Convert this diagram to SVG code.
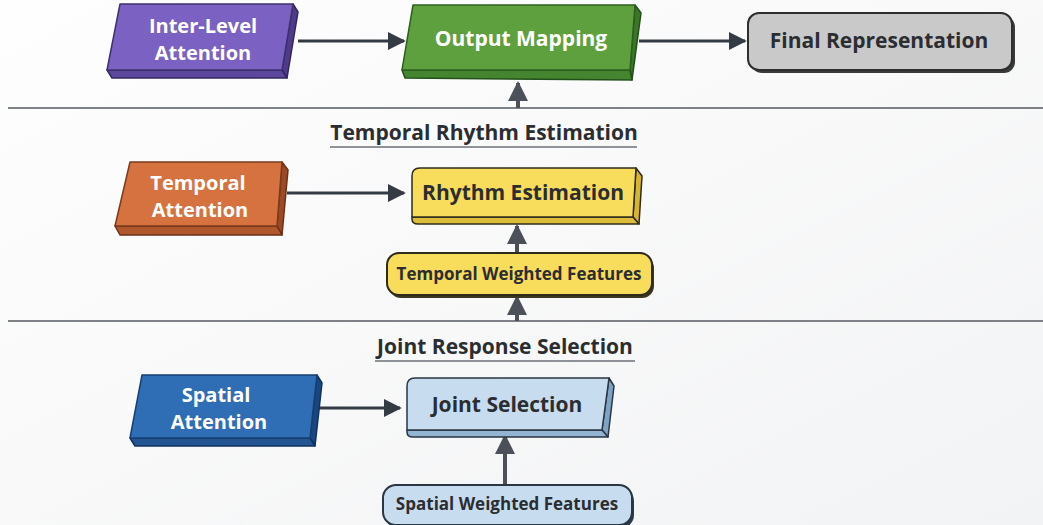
<svg xmlns="http://www.w3.org/2000/svg" width="1043" height="525" viewBox="0 0 1043 525">
  <defs>
    <linearGradient id="bg" x1="0" y1="0" x2="1" y2="1">
      <stop offset="0" stop-color="#fefefe"/>
      <stop offset="1" stop-color="#f2f3f4"/>
    </linearGradient>
    <marker id="arrow" viewBox="0 0 10 10" refX="9" refY="5" markerWidth="6" markerHeight="6" markerUnits="strokeWidth" orient="auto">
      <path d="M0,0 L10,5 L0,10 Z" fill="#353b44"/>
    </marker>
    <marker id="arrowUp" viewBox="0 0 10 10" refX="9" refY="5" markerWidth="5" markerHeight="5" markerUnits="strokeWidth" orient="auto">
      <path d="M0,0 L10,5 L0,10 Z" fill="#4b5059"/>
    </marker>
  </defs>
  <style>
    .lbl { font-family: "Open Sans", "Noto Sans", "Liberation Sans", sans-serif; font-weight: 700; text-anchor: middle; }
    .light { fill: #ffffff; font-size: 21px; }
    .two { font-size: 20px; }
    .dark { fill: #2b2d31; font-size: 21px; }
    .small { fill: #2b2d31; font-size: 17px; }
    .title { fill: #2b2d31; font-size: 21px; }
    .edge { stroke: #353b44; stroke-width: 3; fill: none; }
    .edgeUp { stroke: #4b5059; stroke-width: 4; fill: none; }
    .sep { stroke: #55595f; stroke-width: 1.5; }
    .ul { stroke: #6b6f75; stroke-width: 1.5; }
    .edgeStroke { stroke-linejoin: round; stroke-width: 1.5; }
  </style>

  <rect width="1043" height="525" fill="url(#bg)"/>

  <!-- section separators -->
  <line class="sep" x1="8" y1="108" x2="1043" y2="108"/>
  <line class="sep" x1="8" y1="321" x2="1043" y2="321"/>

  <!-- section titles -->
  <g id="title-temporal">
    <text class="lbl title" x="484" y="140">Temporal Rhythm Estimation</text>
    <line class="ul" x1="330" y1="147" x2="637" y2="147"/>
  </g>
  <g id="title-joint">
    <text class="lbl title" x="505" y="354">Joint Response Selection</text>
    <line class="ul" x1="375" y1="361" x2="635" y2="361"/>
  </g>

  <!-- connectors -->
  <g id="connectors">
    <line class="edge" x1="298" y1="41" x2="404" y2="41" marker-end="url(#arrow)"/>
    <line class="edge" x1="639" y1="41" x2="745" y2="41" marker-end="url(#arrow)"/>
    <line class="edgeUp" x1="518" y1="108" x2="518" y2="83" marker-end="url(#arrowUp)"/>
    <line class="edge" x1="287" y1="193" x2="404" y2="193" marker-end="url(#arrow)"/>
    <line class="edgeUp" x1="517" y1="253" x2="517" y2="226" marker-end="url(#arrowUp)"/>
    <line class="edgeUp" x1="517" y1="321" x2="517" y2="297" marker-end="url(#arrowUp)"/>
    <line class="edge" x1="318" y1="408" x2="400" y2="408" marker-end="url(#arrow)"/>
    <line class="edgeUp" x1="505" y1="485" x2="505" y2="436" marker-end="url(#arrowUp)"/>
  </g>

  <!-- Inter-Level Attention -->
  <g id="inter-level-attention" class="edgeStroke">
    <polygon points="293,4 298,12 287,78 282,70" fill="#4f3b8a" stroke="#33285e"/>
    <polygon points="107,70 282,70 287,78 112,78" fill="#5c479c" stroke="#33285e"/>
    <polygon points="120,4 293,4 282,70 107,70" fill="#7b62c2" stroke="#3e3170"/>
    <text class="lbl light two"><tspan x="203" y="33">Inter-Level</tspan><tspan x="203" y="60">Attention</tspan></text>
  </g>

  <!-- Output Mapping -->
  <g id="output-mapping" class="edgeStroke">
    <polygon points="635,5 641,13 632,80 630,70" fill="#3b7526" stroke="#23501a"/>
    <polygon points="402,70 630,70 632,80 405,78" fill="#468530" stroke="#23501a"/>
    <polygon points="413,5 635,5 630,70 402,70" fill="#5ea03d" stroke="#2f5f20"/>
    <text class="lbl light" x="521" y="46">Output Mapping</text>
  </g>

  <!-- Final Representation -->
  <g id="final-representation">
    <rect x="751" y="16" width="264" height="57" rx="11" fill="#3a3a3a"/>
    <rect x="748" y="13" width="264" height="57" rx="11" fill="#c9c9ca" stroke="#2e2e2e" stroke-width="2"/>
    <text class="lbl dark" x="879" y="48">Final Representation</text>
  </g>

  <!-- Temporal Attention -->
  <g id="temporal-attention" class="edgeStroke">
    <polygon points="282,162 288,170 282,235 277,226" fill="#9c4a26" stroke="#6a3018"/>
    <polygon points="115,226 277,226 282,235 120,235" fill="#b0572e" stroke="#6a3018"/>
    <polygon points="130,162 282,162 277,226 115,226" fill="#d6723f" stroke="#7a3a1c"/>
    <text class="lbl light two"><tspan x="198" y="190">Temporal</tspan><tspan x="200" y="217">Attention</tspan></text>
  </g>

  <!-- Rhythm Estimation -->
  <g id="rhythm-estimation" class="edgeStroke">
    <polygon points="636,168 642,176 639,224 633,217" fill="#d6b531" stroke="#2f2b1c"/>
    <path d="M412,217 L633,217 L639,224 L418,224 Q412,224 412,219 Z" fill="#dcbd3a" stroke="#2f2b1c"/>
    <path d="M420,168 L636,168 L633,217 L412,217 L412,176 Q412,168 420,168 Z" fill="#f8dc5c" stroke="#2f2b1c"/>
    <text class="lbl dark" x="523" y="200">Rhythm Estimation</text>
  </g>

  <!-- Temporal Weighted Features -->
  <g id="temporal-weighted-features">
    <rect x="389" y="256" width="265" height="42" rx="12" fill="#3b3620"/>
    <rect x="387" y="253" width="265" height="42" rx="12" fill="#f8dc5c" stroke="#2f2b1c" stroke-width="2"/>
    <text class="lbl small" x="519" y="280">Temporal Weighted Features</text>
  </g>

  <!-- Spatial Attention -->
  <g id="spatial-attention" class="edgeStroke">
    <polygon points="317,375 322,383 315,446 310,438" fill="#1a4680" stroke="#12325c"/>
    <polygon points="130,438 310,438 315,446 135,446" fill="#235593" stroke="#12325c"/>
    <polygon points="142,375 317,375 310,438 130,438" fill="#2f6db4" stroke="#173f73"/>
    <text class="lbl light two"><tspan x="216" y="402">Spatial</tspan><tspan x="219" y="429">Attention</tspan></text>
  </g>

  <!-- Joint Selection -->
  <g id="joint-selection" class="edgeStroke">
    <polygon points="609,378 614,386 608,437 602,430" fill="#7fa3c5" stroke="#2a3642"/>
    <path d="M407,430 L602,430 L608,437 L413,437 Q407,437 407,432 Z" fill="#93b4d3" stroke="#2a3642"/>
    <path d="M415,378 L609,378 L602,430 L407,430 L407,386 Q407,378 415,378 Z" fill="#c7dcef" stroke="#2a3642"/>
    <text class="lbl dark" x="507" y="412">Joint Selection</text>
  </g>

  <!-- Spatial Weighted Features -->
  <g id="spatial-weighted-features">
    <rect x="385" y="488" width="249" height="40" rx="13" fill="#2e3a46"/>
    <rect x="383" y="485" width="249" height="40" rx="13" fill="#c7dcef" stroke="#2a3642" stroke-width="2"/>
    <text class="lbl small" x="507" y="510">Spatial Weighted Features</text>
  </g>
</svg>
